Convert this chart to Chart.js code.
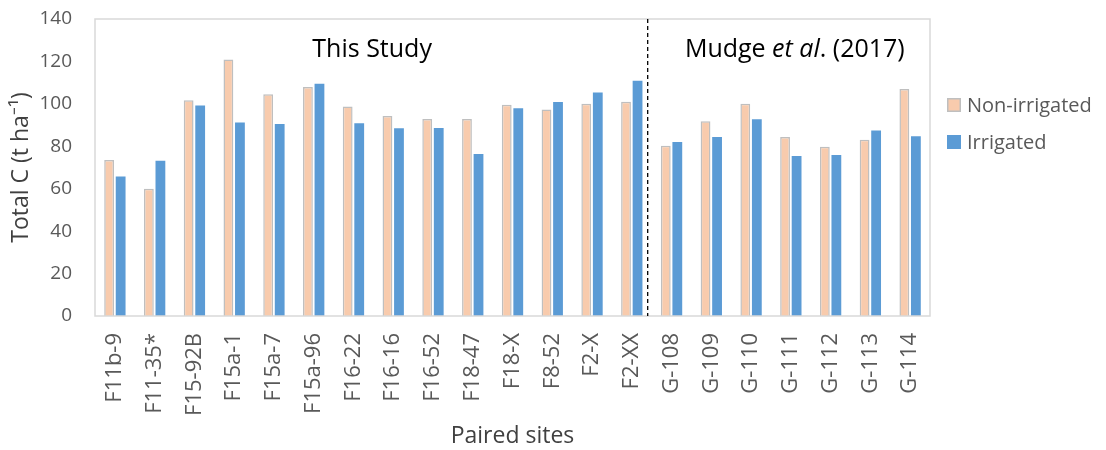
<!DOCTYPE html>
<html>
<head>
<meta charset="utf-8">
<script src="https://cdn.jsdelivr.net/npm/chart.js@4.4.1/dist/chart.umd.min.js"></script>
<style>
  html, body { margin: 0; padding: 0; background: #fff; }
  #wrap { width: 1106px; height: 450px; position: relative; }
</style>
</head>
<body>
<div id="wrap"><canvas id="carbonChart"></canvas></div>
<script>
// --- data ---
const sites = ['F11b-9', 'F11-35*', 'F15-92B', 'F15a-1', 'F15a-7', 'F15a-96', 'F16-22', 'F16-16',
  'F16-52', 'F18-47', 'F18-X', 'F8-52', 'F2-X', 'F2-XX',
  'G-108', 'G-109', 'G-110', 'G-111', 'G-112', 'G-113', 'G-114'];
const nonIrrigated = [73.5, 60, 101.7, 120.9, 104.5, 108, 98.7, 94.3, 92.9, 92.9, 99.6, 97.3, 100.1, 101,
  80.3, 91.8, 100.1, 84.4, 79.8, 83.1, 107];
const irrigated = [65.7, 73.2, 99.2, 91.2, 90.5, 109.5, 90.8, 88.5, 88.6, 76.4, 97.9, 100.9, 105.3, 110.9,
  82, 84.4, 92.7, 75.4, 75.9, 87.4, 84.7];
const yTicks = [0, 20, 40, 60, 80, 100, 120, 140];

const FONT = '"Open Sans", "Liberation Sans", sans-serif';
const TICK_COLOR = '#595959';

// frame around the plot area + dashed divider + the two group labels + legend
const decorPlugin = {
  id: 'decor',
  afterDatasetsDraw(chart) {
    const ctx = chart.ctx;
    const area = chart.chartArea;
    const x = chart.scales.x, y = chart.scales.y;
    ctx.save();

    // plot frame
    ctx.strokeStyle = '#D9D9D9';
    ctx.lineWidth = 1.5;
    ctx.strokeRect(area.left, area.top, area.right - area.left, area.bottom - area.top);

    // dashed divider between this study and Mudge et al.
    const divX = x.getPixelForValue(13.4);
    ctx.strokeStyle = '#000';
    ctx.lineWidth = 1.3;
    ctx.setLineDash([4, 3]);
    ctx.beginPath();
    ctx.moveTo(divX, area.top);
    ctx.lineTo(divX, area.bottom);
    ctx.stroke();
    ctx.setLineDash([]);

    // group labels
    ctx.fillStyle = '#000';
    ctx.textBaseline = 'alphabetic';
    ctx.textAlign = 'center';
    ctx.font = '25px ' + FONT;
    ctx.fillText('This Study', x.getPixelForValue(6.47), y.getPixelForValue(122));

    const parts = [['Mudge ', 'normal'], ['et al', 'italic'], ['. (2017)', 'normal']];
    let total = 0;
    parts.forEach(p => { ctx.font = p[1] + ' 25px ' + FONT; total += ctx.measureText(p[0]).width; });
    let cx = x.getPixelForValue(17.1) - total / 2;
    ctx.textAlign = 'left';
    parts.forEach(p => {
      ctx.font = p[1] + ' 25px ' + FONT;
      ctx.fillText(p[0], cx, y.getPixelForValue(122));
      cx += ctx.measureText(p[0]).width;
    });

    // legend
    ctx.font = '20px ' + FONT;
    ctx.textBaseline = 'middle';
    chart.data.datasets.forEach((ds, i) => {
      const ly = 105 + i * 37;
      const lx = 947;
      ctx.fillStyle = ds.backgroundColor;
      ctx.fillRect(lx, ly - 7, 14, 14);
      if (ds.borderWidth) {
        ctx.strokeStyle = ds.borderColor;
        ctx.lineWidth = 1.5;
        ctx.strokeRect(lx + 0.75, ly - 6.25, 12.5, 12.5);
      }
      ctx.fillStyle = TICK_COLOR;
      ctx.fillText(ds.label, lx + 20, ly + 1);
    });

    ctx.restore();
  }
};

const data = {
  labels: sites,
  datasets: [
    {
      label: 'Non-irrigated',
      data: nonIrrigated,
      backgroundColor: '#F8CBAD',
      borderColor: '#BFBFBF',
      borderWidth: 1.5,
      barPercentage: 0.85,
      categoryPercentage: 0.58
    },
    {
      label: 'Irrigated',
      data: irrigated,
      backgroundColor: '#5B9BD5',
      borderWidth: 0,
      barPercentage: 0.85,
      categoryPercentage: 0.58
    }
  ]
};

const config = {
  type: 'bar',
  data: data,
  plugins: [decorPlugin],
  options: {
    responsive: true,
    maintainAspectRatio: false,
    animation: false,
    layout: { padding: { top: 19, right: 176, left: 0, bottom: 0 } },
    plugins: {
      legend: { display: false },
      title: { display: false },
      tooltip: { enabled: false }
    },
    scales: {
      x: {
        grid: { display: false, drawTicks: false },
        border: { display: false },
        ticks: {
          autoSkip: false,
          minRotation: 90,
          maxRotation: 90,
          padding: 17,
          color: TICK_COLOR,
          font: { family: FONT, size: 22 }
        },
        title: {
          display: true,
          text: 'Paired sites',
          color: '#404040',
          font: { family: FONT, size: 23 },
          padding: { top: 0, bottom: 0 }
        },
        afterFit(scale) {
          scale.height = 134;
          scale.paddingLeft = 0;
          scale.paddingRight = 0;
        }
      },
      y: {
        min: 0,
        max: 140,
        afterBuildTicks(scale) { scale.ticks = yTicks.map(v => ({ value: v })); },
        grid: { display: false, drawTicks: false },
        border: { display: false },
        ticks: {
          padding: 23,
          color: TICK_COLOR,
          font: { family: FONT, size: 19 }
        },
        title: {
          display: true,
          text: 'Total C (t ha\u207B\u00B9)',
          color: '#404040',
          font: { family: FONT, size: 23 },
          padding: { top: 8, bottom: 0 }
        },
        afterFit(scale) {
          scale.width = 95;
          scale.paddingTop = 0;
          scale.paddingBottom = 0;
        }
      }
    }
  }
};

new Chart(document.getElementById('carbonChart'), config);
</script>
</body>
</html>
